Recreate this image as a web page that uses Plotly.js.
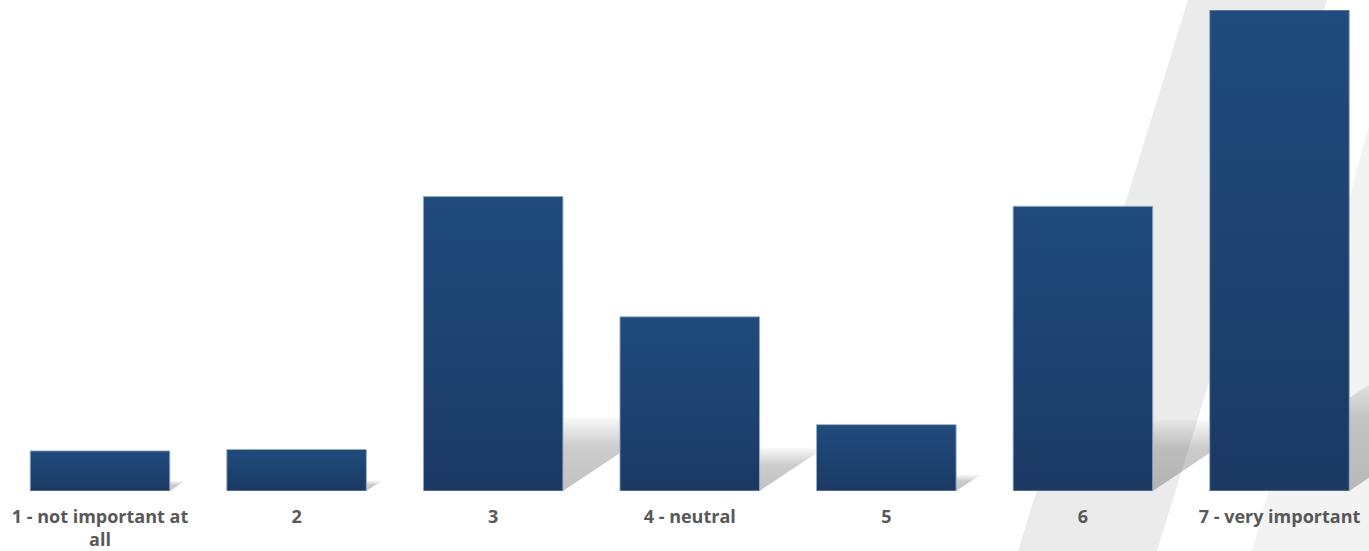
<!DOCTYPE html>
<html>
<head>
<meta charset="utf-8">
<script src="https://cdn.plot.ly/plotly-3.0.1.min.js"></script>
<style>
html,body{margin:0;padding:0;background:#fff;}
#chart{width:1369px;height:551px;}
</style>
</head>
<body>
<div id="chart"></div>
<script>
// Data (percent of respondents)
const categories = ['1 - not important at all', '2', '3', '4 - neutral', '5', '6', '7 - very important'];
const tickLabels = ['1 - not important at<br>all', '2', '3', '4 - neutral', '5', '6', '7 - very important'];
const values = [2.9, 3.0, 21.3, 12.6, 4.8, 20.6, 34.8];

const W = 1369, H = 551;
const mT = 10, mB = 60;
const plotH = H - mT - mB;
const yMax = 34.8;
const xRange = [-0.5087, 6.4553];
const barWidth = 0.71;
const pxPerX = W / (xRange[1] - xRange[0]);
const pxPerY = plotH / yMax;

// Floor shadows, derived from each bar value
const shadowTraces = values.map((v, i) => {
  const h = 0.25 * v;                       // shadow depth in y units
  const s = 1.5 * h * pxPerY / pxPerX;      // sideways shift in x units
  const l = i - barWidth / 2, r = i + barWidth / 2;
  return {
    type: 'scatter', mode: 'lines', xaxis: 'x', yaxis: 'y',
    x: [l, r, r + s, l + s, l],
    y: [0, 0, h, h, 0],
    fill: 'toself', line: {width: 0, color: 'rgba(0,0,0,0)'},
    fillgradient: {type: 'vertical', colorscale: [[0, 'rgba(0,0,0,0.24)'], [0.6, 'rgba(0,0,0,0.2)'], [1, 'rgba(0,0,0,0.02)']]},
    hoverinfo: 'skip', showlegend: false
  };
});

const barTrace = {
  type: 'bar', xaxis: 'x2', yaxis: 'y2',
  x: categories, y: values, width: barWidth,
  marker: {color: '#1e4372', line: {color: 'rgba(150,172,200,0.9)', width: 1}},
  hoverinfo: 'x+y', showlegend: false
};

function px2paperX(px) { return px / W; }
function px2paperY(py) { return (H - mB - py) / plotH; }
function bandPath(pts) {
  return 'M' + pts.map(p => px2paperX(p[0]) + ',' + px2paperY(p[1])).join(' L') + ' Z';
}

const layout = {
  width: W, height: H,
  margin: {l: 0, r: 0, t: mT, b: mB, pad: 0},
  paper_bgcolor: '#ffffff', plot_bgcolor: 'rgba(0,0,0,0)',
  showlegend: false,
  font: {family: '"Open Sans", sans-serif', color: '#585858'},
  xaxis: {type: 'linear', range: xRange, showgrid: false, zeroline: false, showticklabels: false, showline: false, fixedrange: true},
  yaxis: {range: [0, yMax], showgrid: false, zeroline: false, showticklabels: false, showline: false, fixedrange: true},
  xaxis2: {type: 'category', overlaying: 'x', side: 'bottom', range: xRange, showgrid: false, zeroline: false, showline: false,
           tickmode: 'array', tickvals: categories, ticktext: tickLabels, ticks: '', ticklabelstandoff: 13,
           tickfont: {family: '"Open Sans", sans-serif', size: 18, color: '#585858', weight: 'bold'}, fixedrange: true},
  yaxis2: {overlaying: 'y', range: [0, yMax], showgrid: false, zeroline: false, showticklabels: false, showline: false, fixedrange: true},
  shapes: [
    {type: 'path', xref: 'paper', yref: 'paper', layer: 'below', line: {width: 0},
     fillcolor: '#ebebeb', path: bandPath([[1188, 0], [1327, 0], [1157, 551], [1018, 551]])},
    {type: 'path', xref: 'paper', yref: 'paper', layer: 'below', line: {width: 0},
     fillcolor: '#f3f3f3', path: bandPath([[1372, 115], [1400, 115], [1400, 551], [1252, 551]])}
  ]
};

const gd = document.getElementById('chart');
Plotly.newPlot(gd, shadowTraces.concat([barTrace]), layout, {displayModeBar: false, staticPlot: true}).then(() => {
  const ns = 'http://www.w3.org/2000/svg';
  const svg = gd.querySelector('svg.main-svg');
  let defs = svg.querySelector('defs');
  if (!defs) { defs = document.createElementNS(ns, 'defs'); svg.insertBefore(defs, svg.firstChild); }
  const lg = document.createElementNS(ns, 'linearGradient');
  lg.setAttribute('id', 'barGrad');
  lg.setAttribute('x1', '0'); lg.setAttribute('y1', '0');
  lg.setAttribute('x2', '0'); lg.setAttribute('y2', '1');
  [['0', '#204b7d'], ['0.5', '#1d4371'], ['1', '#1a3963']].forEach(([o, c]) => {
    const st = document.createElementNS(ns, 'stop');
    st.setAttribute('offset', o); st.setAttribute('stop-color', c);
    lg.appendChild(st);
  });
  defs.appendChild(lg);
  gd.querySelectorAll('.barlayer .point path').forEach(p => { p.style.fill = 'url(#barGrad)'; });
});
</script>
</body>
</html>
